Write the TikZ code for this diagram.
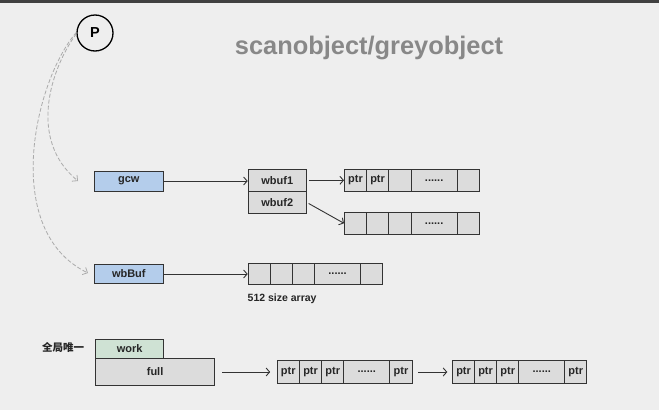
\documentclass[tikz,border=0pt]{standalone}
\usepackage{fontspec}
\setmainfont{Liberation Sans}
\newfontfamily\cjk{Noto Sans CJK SC}
\usetikzlibrary{arrows.meta}
\definecolor{bgc}{HTML}{EEEEEE}
\definecolor{topbar}{HTML}{404040}
\definecolor{edge}{HTML}{333333}
\definecolor{cellfill}{HTML}{DCDCDC}
\definecolor{bluefill}{HTML}{B4CDEB}
\definecolor{greenfill}{HTML}{CFE2D4}
\definecolor{titlegray}{HTML}{888888}
\definecolor{curvegray}{HTML}{AAAAAA}
\newcommand\mydots{......}
\tikzset{
  cell/.style={draw=edge, fill=cellfill, line width=0.9pt, inner sep=0pt, anchor=west,
    font=\bfseries\fontsize{11}{12}\selectfont, text=black!85},
  bluebox/.style={cell, fill=bluefill},
  greenbox/.style={cell, fill=greenfill},
  conn/.style={draw=edge, line width=0.9pt, -{Straight Barb[length=3.5pt,width=8pt]}},
  dashconn/.style={draw=curvegray, line width=0.8pt, dash pattern=on 4pt off 2pt,
    -{Straight Barb[length=4pt,width=8pt]}},
  plain/.style={font=\bfseries\fontsize{10.5}{12}\selectfont, text=black!85, inner sep=0pt}
}
\begin{document}
\begin{tikzpicture}[x=1pt,y=-1pt]
\fill[bgc] (0,0) rectangle (659,410);
\fill[topbar] (0,0) rectangle (659,3);
\useasboundingbox (0,0) rectangle (659,410);

% P and title
\node[draw=black, line width=1.3pt, circle, minimum size=36pt, inner sep=0pt,
  font=\bfseries\fontsize{14.5}{16}\selectfont] (P) at (95,33) {P};
\node[anchor=base, inner sep=0pt, text=titlegray, font=\bfseries\fontsize{25.4}{28}\selectfont] (title) at (369,54) {scanobject/greyobject};

% gcw and wbufs
\node[bluebox, minimum width=68.7pt, minimum height=20pt] (gcw) at (94,181) {gcw};
\node[cell, minimum width=58.3pt, minimum height=22.7pt] (wbuf1) at (247.7,180.3) {wbuf1};
\node[cell, minimum width=58.3pt, minimum height=21.6pt] (wbuf2) at (247.7,202.5) {wbuf2};

\foreach \i/\x/\w/\t in {1/344/22/ptr,2/366/22.3/ptr,3/388.3/22.4/,4/410.7/46/\mydots,5/456.7/22/}
  \node[cell, minimum width=\w pt, minimum height=22.7pt] (ra\i) at (\x,180.3) {\t};
\foreach \i/\x/\w/\t in {1/344/22/,2/366/22.3/,3/388.3/22.4/,4/410.7/46/\mydots,5/456.7/22/}
  \node[cell, minimum width=\w pt, minimum height=22pt] (rb\i) at (\x,223.3) {\t};

% wbBuf
\node[bluebox, minimum width=68.7pt, minimum height=19.3pt] (wbBuf) at (94,274) {wbBuf};
\foreach \i/\x/\w/\t in {1/247.7/22.3/,2/270/22.3/,3/292.3/22/,4/314.3/45.7/\mydots,5/360/22/}
  \node[cell, minimum width=\w pt, minimum height=20.3pt] (rc\i) at (\x,274) {\t};
\node[plain, anchor=west] (sz) at (247.5,298.5) {512 size array};

% global
\node[plain, font=\cjk\bfseries\fontsize{10.5}{12}\selectfont] (glob) at (63,347) {全局唯一};
\node[greenbox, minimum width=68.3pt, minimum height=19.3pt] (work) at (95,348.7) {work};
\node[cell, minimum width=119.3pt, minimum height=27.4pt] (full) at (95,372) {full};
\foreach \i/\x/\w/\t in {1/276.7/22.3/ptr,2/299/22.3/ptr,3/321.3/22/ptr,4/343.3/46/\mydots,5/389.3/22.4/ptr}
  \node[cell, minimum width=\w pt, minimum height=22.6pt] (rd\i) at (\x,372) {\t};
\foreach \i/\x/\w/\t in {1/452.3/21.7/ptr,2/474/22.3/ptr,3/496.3/22/ptr,4/518.3/46/\mydots,5/564.3/22/ptr}
  \node[cell, minimum width=\w pt, minimum height=22.6pt] (re\i) at (\x,372) {\t};

% connectors
\draw[conn] (gcw.east) -- (wbuf1.west |- gcw.east);
\draw[conn, shorten <=2pt] (wbuf1.east) -- (ra1.west);
\draw[conn, shorten <=2pt] (wbuf2.east) -- (rb1.west);
\draw[conn] (wbBuf.east) -- (rc1.west);
\draw[conn, shorten <=7pt, shorten >=6.5pt] (full.east) -- (rd1.west);
\draw[conn, shorten <=5.5pt, shorten >=5pt] (rd5.east) -- (re1.west);

\coordinate (gcwtip) at (78,181);
\coordinate (wbtip) at (88,273);
\draw[dashconn] (P.182) .. controls (50,70) and (28,140) .. (gcwtip);
\draw[dashconn] (P.178) .. controls (35,80) and (0,230) .. (wbtip);
\end{tikzpicture}
\end{document}
